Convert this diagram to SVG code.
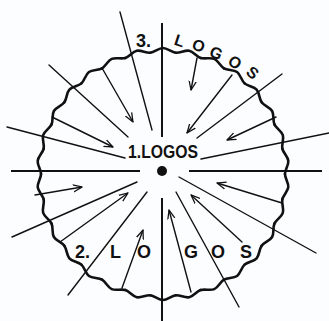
<svg xmlns="http://www.w3.org/2000/svg" xmlns:xlink="http://www.w3.org/1999/xlink" width="329" height="321" viewBox="0 0 329 321">
<style>
.ray{stroke:#111;stroke-width:1.4;fill:none;stroke-linecap:round}
.arrow{stroke:#111;stroke-width:1.4;fill:none;stroke-linecap:round;marker-end:url(#head)}
.axis{stroke:#111;stroke-width:2;fill:none}
.wave{stroke:#111;stroke-width:2.6;fill:none;stroke-linecap:round}
.lbl{font-family:"Liberation Sans",Arial,sans-serif;font-weight:bold;font-size:18px;fill:#111}
.arc{font-family:"Liberation Sans",Arial,sans-serif;font-weight:bold;font-size:16px;fill:#111;text-anchor:middle}
</style>
<defs>
<marker id="head" viewBox="0 0 10 10" refX="10" refY="5" markerUnits="userSpaceOnUse" markerWidth="9" markerHeight="9" orient="auto">
<path d="M0,1 L10,5 L0,9" fill="none" stroke="#111" stroke-width="1.4"/>
</marker>
<path id="seg" d="M-12.75,-121.3 C-8.5,-121.75 -4.3,-126 0,-126 C4.3,-126 8.5,-121.75 12.75,-121.3"/>
</defs>
<rect width="329" height="321" fill="#fcfdfe"/>
<g id="circle" class="wave" transform="translate(163,174)">
<use xlink:href="#seg" transform="rotate(0)"/><use xlink:href="#seg" transform="rotate(12)"/><use xlink:href="#seg" transform="rotate(24)"/><use xlink:href="#seg" transform="rotate(36)"/><use xlink:href="#seg" transform="rotate(48)"/><use xlink:href="#seg" transform="rotate(60)"/><use xlink:href="#seg" transform="rotate(72)"/><use xlink:href="#seg" transform="rotate(84)"/><use xlink:href="#seg" transform="rotate(96)"/><use xlink:href="#seg" transform="rotate(108)"/><use xlink:href="#seg" transform="rotate(120)"/><use xlink:href="#seg" transform="rotate(132)"/><use xlink:href="#seg" transform="rotate(144)"/><use xlink:href="#seg" transform="rotate(156)"/><use xlink:href="#seg" transform="rotate(168)"/><use xlink:href="#seg" transform="rotate(180)"/><use xlink:href="#seg" transform="rotate(192)"/><use xlink:href="#seg" transform="rotate(204)"/><use xlink:href="#seg" transform="rotate(216)"/><use xlink:href="#seg" transform="rotate(228)"/><use xlink:href="#seg" transform="rotate(240)"/><use xlink:href="#seg" transform="rotate(252)"/><use xlink:href="#seg" transform="rotate(264)"/><use xlink:href="#seg" transform="rotate(276)"/><use xlink:href="#seg" transform="rotate(288)"/><use xlink:href="#seg" transform="rotate(300)"/><use xlink:href="#seg" transform="rotate(312)"/><use xlink:href="#seg" transform="rotate(324)"/><use xlink:href="#seg" transform="rotate(336)"/><use xlink:href="#seg" transform="rotate(348)"/>
</g>
<g id="connectors">
<line class="axis" x1="162" y1="23" x2="162" y2="137"/>
<line class="axis" x1="162" y1="198" x2="162" y2="321"/>
<line class="axis" x1="11" y1="171" x2="140" y2="171"/>
<line class="axis" x1="189" y1="171" x2="322" y2="171"/>
<line class="ray" x1="120" y1="12" x2="152" y2="130"/>
<line class="ray" x1="49" y1="65" x2="128" y2="137"/>
<line class="ray" x1="7" y1="127" x2="125" y2="158"/>
<line class="ray" x1="282" y1="74" x2="197" y2="138"/>
<line class="ray" x1="329" y1="133" x2="201" y2="159"/>
<line class="ray" x1="12" y1="237" x2="137" y2="182"/>
<line class="ray" x1="68" y1="295" x2="147" y2="192"/>
<line class="ray" x1="316" y1="253" x2="179" y2="177"/>
<line class="ray" x1="239" y1="307" x2="176" y2="192"/>
<line class="arrow" x1="102" y1="68" x2="133" y2="122"/>
<line class="arrow" x1="52" y1="117" x2="113" y2="147"/>
<line class="arrow" x1="197" y1="58" x2="191" y2="90"/>
<line class="arrow" x1="232" y1="75" x2="187" y2="133"/>
<line class="arrow" x1="276" y1="117" x2="227" y2="140"/>
<line class="arrow" x1="35" y1="195" x2="82" y2="187"/>
<line class="arrow" x1="60" y1="242" x2="128" y2="193"/>
<line class="arrow" x1="122" y1="288" x2="143" y2="230"/>
<line class="arrow" x1="282" y1="203" x2="217" y2="183"/>
<line class="arrow" x1="242" y1="242" x2="191" y2="195"/>
<line class="arrow" x1="191" y1="292" x2="169" y2="210"/>
</g>
<g id="center">
<circle cx="162" cy="171" r="5" fill="#111"/>
<text class="lbl" x="128" y="158" textLength="70" lengthAdjust="spacingAndGlyphs">1.LOGOS</text>
</g>
<g id="label3">
<text class="lbl" x="136" y="47">3.</text>
<text class="arc" transform="translate(178,46) rotate(18)">L</text>
<text class="arc" transform="translate(197,51) rotate(18)">O</text>
<text class="arc" transform="translate(214,58) rotate(24)">G</text>
<text class="arc" transform="translate(232,67) rotate(32)">O</text>
<text class="arc" transform="translate(249,77) rotate(40)">S</text>
</g>
<g id="label2">
<text class="lbl" x="75" y="258">2.</text>
<text class="lbl" x="110" y="258">L</text>
<text class="lbl" x="137" y="258">O</text>
<text class="lbl" x="184" y="258">G</text>
<text class="lbl" x="211" y="258">O</text>
<text class="lbl" x="240" y="258">S</text>
</g>
</svg>
